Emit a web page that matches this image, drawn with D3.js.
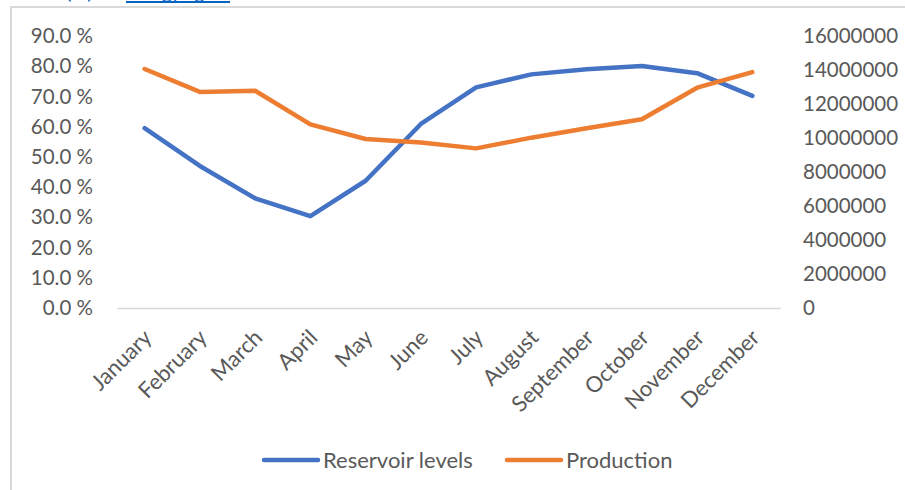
<!DOCTYPE html>
<html>
<head>
<meta charset="utf-8">
<script src="https://cdn.jsdelivr.net/npm/d3@7"></script>
<style>
  html, body { margin: 0; padding: 0; background: #fff; }
  svg { display: block; }
  text { font-family: Lato, "Open Sans", sans-serif; }
</style>
</head>
<body>
<svg id="chart" width="905" height="490"></svg>
<script>
// Monthly reservoir filling (share of capacity) and production
const months = ["January", "February", "March", "April", "May", "June",
                "July", "August", "September", "October", "November", "December"];
const reservoirLevels = [0.595, 0.470, 0.363, 0.304, 0.421, 0.609,
                         0.730, 0.773, 0.790, 0.801, 0.777, 0.702];
const production = [14060000, 12710000, 12780000, 10800000, 9940000, 9730000,
                    9390000, 10020000, 10570000, 11100000, 12960000, 13880000];
const leftTicks = [0, 0.1, 0.2, 0.3, 0.4, 0.5, 0.6, 0.7, 0.8, 0.9];
const rightTicks = [0, 2000000, 4000000, 6000000, 8000000, 10000000, 12000000, 14000000, 16000000];
const seriesNames = ["Reservoir levels", "Production"];
const seriesColors = ["#4472C4", "#ED7D31"];

const svg = d3.select("#chart");
const textColor = "#595959";
const frameColor = "#d9d9d9";
const numberFont = "'Open Sans', sans-serif";
const numberSize = 20.5;
const labelSize = 22;

// Caption line above the chart frame (only its lower part is in view)
svg.append("text")
  .attr("x", 66).attr("y", -1)
  .attr("font-size", 20).attr("fill", "#0563C1")
  .text("(%)");
svg.append("text")
  .attr("x", 126).attr("y", -1)
  .attr("font-size", 20).attr("fill", "#0563C1")
  .attr("textLength", 104)
  .text("Energy figure");
svg.append("line")
  .attr("x1", 126).attr("x2", 230)
  .attr("y1", 2).attr("y2", 2)
  .attr("stroke", "#0563C1").attr("stroke-width", 2);

// Chart frame
svg.append("rect")
  .attr("x", 11).attr("y", 7)
  .attr("width", 905).attr("height", 500)
  .attr("fill", "none")
  .attr("stroke", frameColor).attr("stroke-width", 2);

const plot = { left: 117, right: 780, top: 36, bottom: 308 };

const x = d3.scalePoint()
  .domain(months)
  .range([plot.left, plot.right])
  .padding(0.5);

const yLeft = d3.scaleLinear().domain([0, 0.9]).range([plot.bottom, plot.top]);
const yRight = d3.scaleLinear().domain([0, 16000000]).range([plot.bottom, plot.top]);

// Left axis (percent)
const leftAxis = d3.axisLeft(yLeft)
  .tickValues(leftTicks)
  .tickSize(0)
  .tickPadding(0)
  .tickFormat(d => d3.format(".1f")(d * 100) + " %");
const gl = svg.append("g")
  .attr("transform", `translate(93,0)`)
  .call(leftAxis);
gl.select(".domain").remove();
gl.selectAll("text")
  .attr("font-size", numberSize)
  .attr("fill", textColor)
  .attr("font-family", numberFont);

// Right axis (production)
const rightAxis = d3.axisRight(yRight)
  .tickValues(rightTicks)
  .tickSize(0)
  .tickPadding(0)
  .tickFormat(d3.format("d"));
const gr = svg.append("g")
  .attr("transform", `translate(803,0)`)
  .call(rightAxis);
gr.select(".domain").remove();
gr.selectAll("text")
  .attr("font-size", numberSize)
  .attr("fill", textColor)
  .attr("font-family", numberFont);

// Category axis with rotated month names
const bottomAxis = d3.axisBottom(x).tickSize(0).tickPadding(0);
const gb = svg.append("g")
  .attr("transform", `translate(0,${plot.bottom})`)
  .call(bottomAxis);
gb.select(".domain")
  .attr("stroke", frameColor)
  .attr("stroke-width", 1.5);
gb.selectAll("text")
  .attr("font-size", labelSize)
  .attr("fill", textColor)
  .attr("font-family", "Lato, sans-serif")
  .attr("text-anchor", "end")
  .attr("dy", null)
  .attr("y", 0)
  .attr("transform", "translate(8,31) rotate(-45)");

// Lines
const lineLeft = d3.line()
  .x((d, i) => x(months[i]))
  .y(d => yLeft(d));
const lineRight = d3.line()
  .x((d, i) => x(months[i]))
  .y(d => yRight(d));

svg.append("path")
  .datum(reservoirLevels)
  .attr("d", lineLeft)
  .attr("fill", "none")
  .attr("stroke", seriesColors[0])
  .attr("stroke-width", 4.5)
  .attr("stroke-linecap", "round")
  .attr("stroke-linejoin", "round");

svg.append("path")
  .datum(production)
  .attr("d", lineRight)
  .attr("fill", "none")
  .attr("stroke", seriesColors[1])
  .attr("stroke-width", 4.5)
  .attr("stroke-linecap", "round")
  .attr("stroke-linejoin", "round");

// Legend
const legendItems = [
  { name: seriesNames[0], color: seriesColors[0], x: 264 },
  { name: seriesNames[1], color: seriesColors[1], x: 507 }
];
const lg = svg.append("g").attr("transform", "translate(0,460)");
legendItems.forEach(item => {
  lg.append("line")
    .attr("x1", item.x).attr("x2", item.x + 54)
    .attr("y1", 0).attr("y2", 0)
    .attr("stroke", item.color)
    .attr("stroke-width", 4.5)
    .attr("stroke-linecap", "round");
  lg.append("text")
    .attr("x", item.x + 59)
    .attr("y", 0)
    .attr("dy", "0.35em")
    .attr("font-size", labelSize)
    .attr("fill", textColor)
    .text(item.name);
});
</script>
</body>
</html>
